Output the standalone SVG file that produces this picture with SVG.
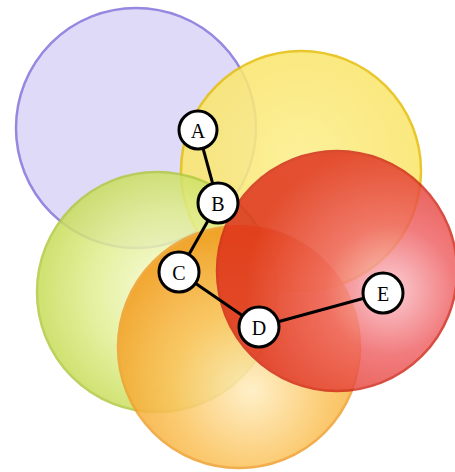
<svg xmlns="http://www.w3.org/2000/svg" width="455" height="472" viewBox="0 0 455 472">
  <defs>
    <radialGradient id="gGreen" cx="0.55" cy="0.5" r="0.6">
      <stop offset="0" stop-color="#f9fcd8"/>
      <stop offset="0.55" stop-color="#e0ee8e"/>
      <stop offset="1" stop-color="#c2d84a"/>
    </radialGradient>
    <radialGradient id="gOrange" cx="0.55" cy="0.68" r="0.65">
      <stop offset="0" stop-color="#ffeec0"/>
      <stop offset="0.5" stop-color="#fbc25a"/>
      <stop offset="1" stop-color="#f29a1a"/>
    </radialGradient>
    <radialGradient id="gRed" cx="0.72" cy="0.58" r="0.6">
      <stop offset="0" stop-color="#fbc4cc"/>
      <stop offset="0.45" stop-color="#ef6062"/>
      <stop offset="1" stop-color="#de2c1a"/>
    </radialGradient>
    <radialGradient id="gYellow" cx="0.5" cy="0.45" r="0.6">
      <stop offset="0" stop-color="#fcee8c"/>
      <stop offset="1" stop-color="#fae466"/>
    </radialGradient>
  </defs>
  <style>
    .ring { stroke-width: 2.5; }
    .node circle { fill: #ffffff; stroke: #000000; stroke-width: 3; }
    .node text { font-family: "Liberation Serif", "Times New Roman", serif; font-size: 20px; fill: #000000; text-anchor: middle; dominant-baseline: central; }
    .edge { stroke: #000000; stroke-width: 3; fill: none; }
  </style>
  <rect width="455" height="472" fill="#ffffff"/>
  <g id="circles">
    <circle id="purple" class="ring" cx="136" cy="128" r="120" fill="#dcd6f6" stroke="#9488e0" fill-opacity="0.9"/>
    <circle id="yellow" class="ring" cx="301" cy="171" r="120" fill="url(#gYellow)" stroke="#e6c010" opacity="0.88"/>
    <circle id="green" class="ring" cx="157" cy="292" r="120" fill="url(#gGreen)" stroke="#b2ca44" opacity="0.85"/>
    <circle id="orange" class="ring" cx="239" cy="347" r="121" fill="url(#gOrange)" stroke="#f0a030" opacity="0.86"/>
    <circle id="red" class="ring" cx="337" cy="271" r="120" fill="url(#gRed)" stroke="#d0281a" opacity="0.82"/>
  </g>
  <g id="connectors">
    <line class="edge" x1="198" y1="130" x2="218" y2="203"/>
    <line class="edge" x1="218" y1="203" x2="179" y2="272"/>
    <line class="edge" x1="179" y1="272" x2="259" y2="327"/>
    <line class="edge" x1="259" y1="327" x2="383" y2="293"/>
  </g>
  <g id="A" class="node"><circle cx="198" cy="130" r="19"/><text x="198" y="131">A</text></g>
  <g id="B" class="node"><circle cx="218" cy="203" r="20"/><text x="218" y="204">B</text></g>
  <g id="C" class="node"><circle cx="179" cy="272" r="20"/><text x="179" y="273">C</text></g>
  <g id="D" class="node"><circle cx="259" cy="327" r="20"/><text x="259" y="328">D</text></g>
  <g id="E" class="node"><circle cx="383" cy="293" r="20"/><text x="383" y="294">E</text></g>
</svg>
